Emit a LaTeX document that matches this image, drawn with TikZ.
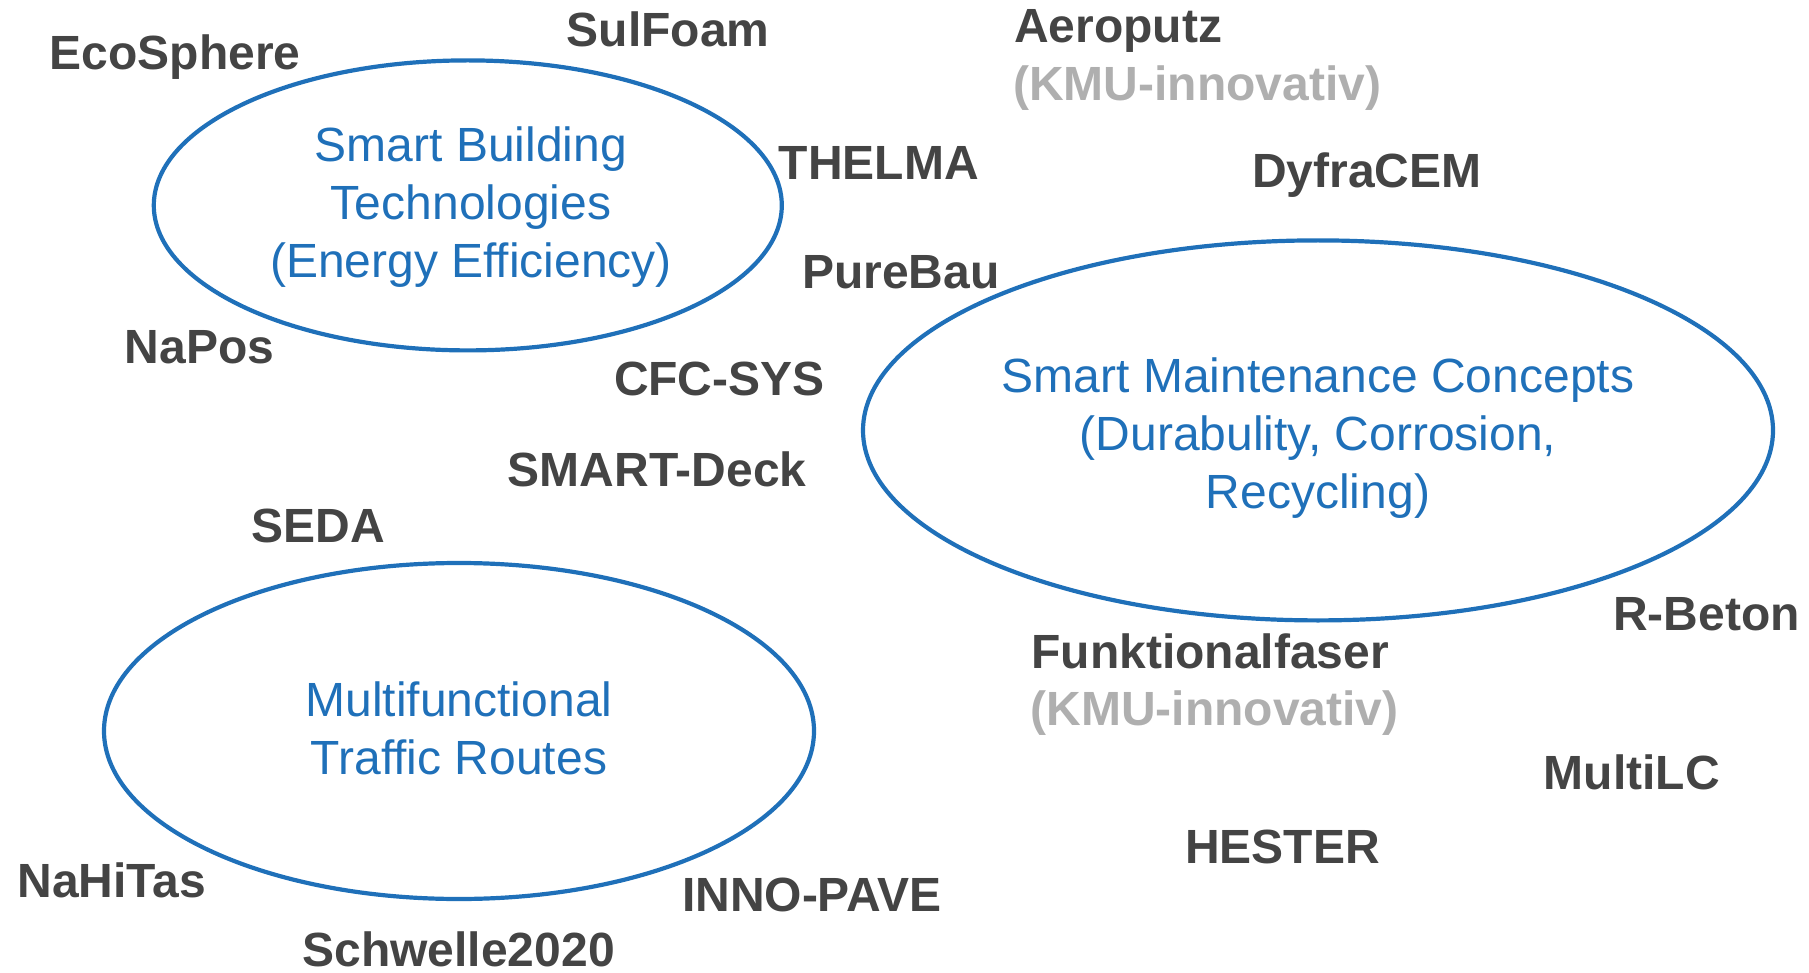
\documentclass[tikz,border=0pt]{standalone}
\usepackage{fontspec}
\setmainfont{Liberation Sans}
\usetikzlibrary{shapes.geometric}
\definecolor{topicblue}{RGB}{31,112,185}
\definecolor{projgray}{RGB}{68,68,68}
\definecolor{kmugray}{RGB}{175,175,175}
\tikzset{
  topic/.style={ellipse, draw=topicblue, line width=4.2pt, inner sep=0pt},
  topictext/.style={text=topicblue, align=center, inner sep=0pt,
    font=\fontsize{48}{58}\selectfont},
  proj/.style={anchor=base west, inner sep=0pt, text=projgray,
    font=\fontsize{48}{58}\selectfont\bfseries},
  kmu/.style={proj, text=kmugray}
}
\begin{document}
\begin{tikzpicture}[x=1pt,y=-1pt]
\useasboundingbox (0,0) rectangle (1809,973);
\node[topic, minimum width=628pt, minimum height=290pt] (sbt) at (467.8,205.4) {};
\node[topic, minimum width=910pt, minimum height=380pt] (smc) at (1318,430.4) {};
\node[topic, minimum width=710pt, minimum height=336pt] (mtr) at (459,731) {};
\node[topictext] (sbtlabel) at (471,207.5) {Smart Building\\Technologies\\(Energy Efficiency)};
\node[topictext] (smclabel) at (1318,438) {Smart Maintenance Concepts\\(Durabulity, Corrosion,\\Recycling)};
\node[topictext] (mtrlabel) at (459,728.5) {Multifunctional\\Traffic Routes};

\node[proj] (ecosphere) at (49.6,69.2) {EcoSphere};
\node[proj] (sulfoam) at (566.5,46.1) {SulFoam};
\node[proj] (aeroputz) at (1014,42.7) {Aeroputz};
\node[kmu] (kmua) at (1013,100.4) {(KMU-innovativ)};
\node[proj] (thelma) at (778.7,180) {THELMA};
\node[proj] (dyfracem) at (1251.8,188) {DyfraCEM};
\node[proj] (purebau) at (801.8,288.4) {PureBau};
\node[proj] (napos) at (124.6,363.4) {NaPos};
\node[proj] (cfcsys) at (613.8,395.7) {CFC-SYS};
\node[proj] (smartdeck) at (507.6,486.9) {SMART-Deck};
\node[proj] (seda) at (251.5,542.2) {SEDA};
\node[proj] (rbeton) at (1613,630) {R-Beton};
\node[proj] (funktional) at (1031.4,668) {Funktionalfaser};
\node[kmu] (kmub) at (1030.3,725.7) {(KMU-innovativ)};
\node[proj] (multilc) at (1543.6,789.1) {MultiLC};
\node[proj] (hester) at (1184.9,863) {HESTER};
\node[proj] (nahitas) at (17.3,897.6) {NaHiTas};
\node[proj] (innopave) at (681.8,911.4) {INNO-PAVE};
\node[proj] (schwelle) at (302.3,966) {Schwelle2020};
\end{tikzpicture}
\end{document}
